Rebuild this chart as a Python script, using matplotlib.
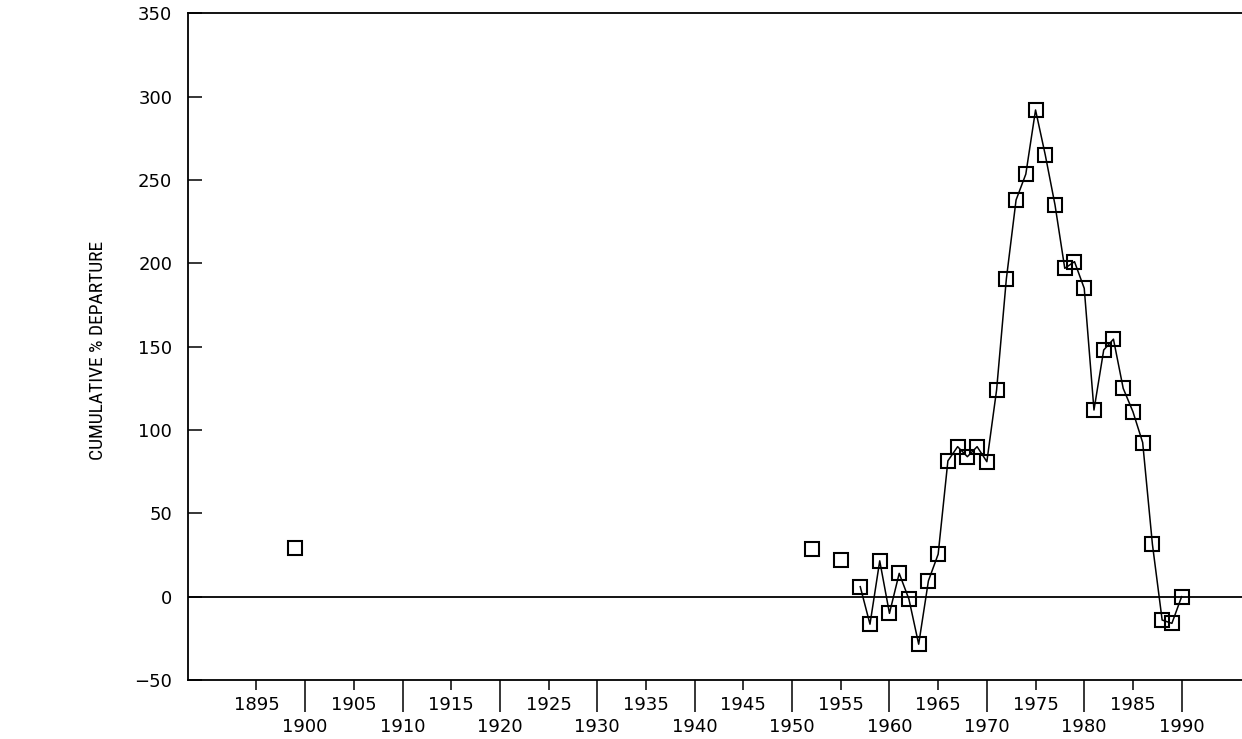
import matplotlib
matplotlib.use("Agg")
import matplotlib.pyplot as plt
from matplotlib.ticker import FixedLocator, FixedFormatter
from matplotlib import font_manager

# Isolated early observations (not joined by the line)
isolated_years = [1899, 1952, 1955]
isolated_values = [29, 28.5, 22]

# Continuous record, joined by a line
years = [1957, 1958, 1959, 1960, 1961, 1962, 1963, 1964, 1965, 1966,
         1967, 1968, 1969, 1970, 1971, 1972, 1973, 1974, 1975, 1976,
         1977, 1978, 1979, 1980, 1981, 1982, 1983, 1984, 1985, 1986,
         1987, 1988, 1989, 1990]
values = [6, -16.5, 21.5, -10, 14, -1.5, -28.5, 9.5, 25.5, 81.5,
          90, 84, 90, 81, 124, 190.5, 238, 253.5, 292, 265,
          235, 197, 201, 185, 112, 148, 154.5, 125, 111, 92.5,
          31.5, -14, -16, 0]

major_years = list(range(1900, 1991, 10))
minor_years = list(range(1895, 1986, 10))
y_ticks = [-50, 0, 50, 100, 150, 200, 250, 300, 350]
y_label = "CUMULATIVE % DEPARTURE"

available = {f.name for f in font_manager.fontManager.ttflist}
narrow = [n for n in ("Liberation Sans Narrow", "Roboto Condensed", "DejaVu Sans Condensed")
          if n in available]
label_font = narrow[0] if narrow else "DejaVu Sans"

fig = plt.figure(figsize=(12.42, 7.39), dpi=100)
ax = fig.add_axes([0.1516, 0.0798, 0.8484, 0.9022])

ax.axhline(0, color="black", lw=1.3, zorder=1)
ax.plot(years, values, color="black", lw=1.1, zorder=2)
marker_style = dict(marker="s", markersize=9.5, markerfacecolor="none",
                    markeredgecolor="black", markeredgewidth=1.5, linestyle="none", zorder=3)
ax.plot(years, values, **marker_style)
ax.plot(isolated_years, isolated_values, **marker_style)

ax.set_xlim(1888, 1996.2)
ax.set_ylim(-50, 350)

# Staggered year labels: decades on the lower row with long ticks,
# mid-decade years on the upper row with short ticks
ax.xaxis.set_major_locator(FixedLocator(major_years))
ax.xaxis.set_major_formatter(FixedFormatter([str(y) for y in major_years]))
ax.xaxis.set_minor_locator(FixedLocator(minor_years))
ax.xaxis.set_minor_formatter(FixedFormatter([str(y) for y in minor_years]))
ax.tick_params(axis="x", which="major", direction="out", length=23, width=1.1,
               pad=4.5, labelsize=13)
ax.tick_params(axis="x", which="minor", direction="out", length=7.2, width=1.1,
               pad=4.5, labelsize=13)

ax.set_yticks(y_ticks)
ax.set_yticklabels([("\u221250" if t < 0 else str(t)) for t in y_ticks])
ax.tick_params(axis="y", direction="in", length=10, width=1.1, pad=11.5, labelsize=13)

for side in ("left", "top", "bottom"):
    ax.spines[side].set_linewidth(1.3)
ax.spines["right"].set_visible(False)

fig.text(98 / 1242, 1 - 350 / 739, y_label, rotation=90, ha="center", va="center",
         fontsize=14 if narrow else 11.5, family=label_font, fontstretch="condensed")

fig.savefig("out.png", dpi=100)
